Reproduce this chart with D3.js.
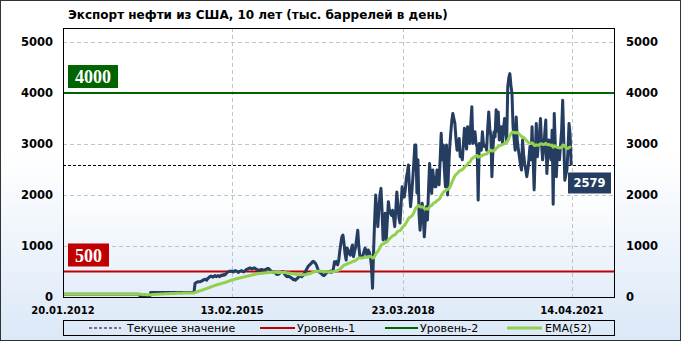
<!DOCTYPE html>
<html>
<head>
<meta charset="utf-8">
<script src="https://cdn.jsdelivr.net/npm/d3@7"></script>
<style>
  html, body { margin: 0; padding: 0; background: #fff; }
  svg { display: block; font-family: "DejaVu Sans", Verdana, sans-serif; }
</style>
</head>
<body>
<svg id="chart" width="681" height="341"></svg>
<script>
// Weekly series, first week ending 20.01.2012 (thousand barrels per day)
const startDate = new Date(2012, 0, 20);
const exportValues = [
  // 2012 - 2013
  55, 55, 55, 55, 55, 55, 55, 55, 55, 55, 55, 55, 55, 55, 55, 55, 55, 55, 55, 55,
  55, 55, 55, 55, 55, 55, 55, 55, 55, 55, 55, 55, 55, 55, 55, 55, 55, 55, 55, 55,
  55, 55, 55, 55, 55, 55, 55, 55, 55, 55, 55, 55, 55, 55, 55, 55, 55, 55, 55, 55,
  55, 55, 55, 55, 55, 55, 55, 55, 55, 55, 55, 55, 55,
  15, 15, 15, 15, 15, 15, 15, 15, 15, 15,
  // 2013 - 2014
  90, 90, 90, 90, 90, 90, 90, 90, 90, 90, 90, 90, 90, 90, 90, 90, 90, 90, 90, 90,
  90, 90, 90, 90, 90, 90, 90, 90, 90, 90, 90, 90, 90, 90, 90, 90, 90, 90, 90, 90,
  90, 90,
  // 2014 - 2015
  270, 280, 290, 300, 300, 300, 310, 320, 340, 340, 350, 330, 360, 380,
  400, 410, 400, 390, 410, 420, 400, 410, 420, 400,
  410, 430, 420, 440, 430, 450, 470, 490, 500, 510, 500,
  510, 490, 500, 520, 510, 500, 480, 500, 510, 520, 500, 490, 510, 530, 540,
  550, 560, 570, 560, 550, 560, 570, 560, 540, 530,
  530, 520, 530, 540, 530, 520, 530, 540, 550, 560, 550, 530,
  // 2015 - 2016
  510, 490, 480, 490, 470, 450, 440, 450, 460, 480, 490, 500, 480,
  440, 420, 400, 410, 400, 390, 380, 360, 340, 350, 330, 350, 370,
  390, 410, 420, 400, 420, 450, 480, 520, 560, 600, 620, 640, 660,
  690, 700, 680, 660, 620, 560, 500, 480, 470, 450, 430, 420, 440,
  460, 480, 500, 490, 510, 480, 500, 560, 690, 650, 700,
  // 2017
  630, 720, 900, 1050, 1180, 1215, 1050, 850, 725, 960, 900, 850, 820, 950, 1020, 790,
  900, 985, 1150, 1310, 1000, 800, 780, 800, 820, 900, 960, 880, 790, 920, 880, 790,
  600, 170, 900, 1500, 2000, 1700, 1380, 1700,
  // 2018
  2000, 2130, 1700, 1120, 1400, 1640, 1120, 1500, 1870, 1700, 1640, 1600, 1700, 1550,
  1380, 1700, 2060, 1800, 1550, 1450, 1800, 2160, 2050, 1960, 2100, 2330, 2450, 2590,
  2100, 1770, 2000, 2290, 2600, 2980, 2980, 2040, 2690, 1640, 1310, 1600,
  // 2019
  1840, 1575, 1180, 1500, 1770, 1510, 2100, 2620, 2300, 2030, 2490, 2300, 2160, 2160,
  2490, 2300, 2200, 2700, 3210, 2690, 2980, 2500, 2160, 2980, 2000, 2500, 2920, 3200,
  3450, 3600, 3500, 3400, 3100, 2880, 3000, 3110, 2750, 2800, 2690, 3000,
  // 2019 - 2020
  3310, 3100, 2900, 3340, 3200, 3010, 3400, 3730, 3010, 3100, 3240, 3000, 2950, 1900,
  3010, 2900, 2880, 3240, 3000, 2950, 2980, 2880, 3300, 3630, 3300, 3160, 2360, 2900,
  3240, 3140, 3670, 3250, 3630, 3080, 3200, 3340, 3010, 3300, 3500, 3300,
  // 2020 - 2021
  3050, 4120, 4300, 4380, 4150, 3990, 3340, 3100, 2880, 3530, 3080, 2900, 2750, 2600,
  2490, 3080, 2800, 2620, 2500, 2360, 2490, 2700, 2950, 2690, 3340, 2700, 2100, 2800,
  3400, 2750, 3000, 3200, 3500, 3000, 2690, 2880, 3200, 3470, 2420, 2800, 3080, 2800,
  2690, 3270, 1820, 3600, 3000, 2360, 2880, 2750, 2690, 3000, 3270, 3860, 3100, 2290,
  2400, 2490, 2880, 3400, 3200, 2579
];

const yTicks = [0, 1000, 2000, 3000, 4000, 5000];
const xTickLabels = ['20.01.2012', '13.02.2015', '23.03.2018', '14.04.2021'];
const level1 = 500;
const level2 = 4000;
const emaPeriod = 52;
const legendLabels = ['Текущее значение', 'Уровень-1', 'Уровень-2', 'EMA(52)'];
const chartTitle = 'Экспорт нефти из США, 10 лет (тыс. баррелей в день)';

const W = 681, H = 341;
const plot = { left: 63, right: 614, top: 28, bottom: 297 };

const colors = {
  line: '#243d60',
  ema: '#92d050',
  level1: '#c00000',
  level2: '#006400',
  grid: '#c3c3c3'
};

const parseDate = d3.timeParse('%d.%m.%Y');

// Build dated points and EMA
const series = exportValues.map((v, i) => ({ date: d3.timeDay.offset(startDate, 7 * i), value: v }));
const alpha = 2 / (emaPeriod + 1);
let emaPrev = exportValues[0];
const emaSeries = series.map(d => {
  emaPrev = emaPrev + alpha * (d.value - emaPrev);
  return { date: d.date, value: emaPrev };
});
const lastPoint = series[series.length - 1];

const x = d3.scaleTime()
  .domain([startDate, new Date(2022, 0, 18)])
  .range([plot.left, plot.right]);

const y = d3.scaleLinear()
  .domain([0, 5275])
  .range([plot.bottom, plot.top]);

const svg = d3.select('#chart');

// Background gradients
const defs = svg.append('defs');
const bgGrad = defs.append('linearGradient').attr('id', 'bgGrad')
  .attr('x1', 0).attr('y1', 0).attr('x2', 0).attr('y2', 1);
bgGrad.append('stop').attr('offset', '0%').attr('stop-color', '#ffffff');
bgGrad.append('stop').attr('offset', '45%').attr('stop-color', '#ffffff');
bgGrad.append('stop').attr('offset', '100%').attr('stop-color', '#dbe8f7');

const plotGrad = defs.append('linearGradient').attr('id', 'plotGrad')
  .attr('x1', 0).attr('y1', 0).attr('x2', 0).attr('y2', 1);
plotGrad.append('stop').attr('offset', '0%').attr('stop-color', '#ffffff');
plotGrad.append('stop').attr('offset', '60%').attr('stop-color', '#ffffff');
plotGrad.append('stop').attr('offset', '100%').attr('stop-color', '#e3edf9');

svg.append('rect')
  .attr('x', 0.5).attr('y', 0.5)
  .attr('width', W - 1).attr('height', H - 1)
  .attr('fill', 'url(#bgGrad)')
  .attr('stroke', '#333');

svg.append('rect')
  .attr('x', plot.left).attr('y', plot.top)
  .attr('width', plot.right - plot.left).attr('height', plot.bottom - plot.top)
  .attr('fill', 'url(#plotGrad)');

// Title
svg.append('text')
  .attr('x', 68).attr('y', 18.5)
  .attr('font-size', 12).attr('font-weight', 'bold')
  .attr('fill', '#000')
  .text(chartTitle);

// Grid
const gridG = svg.append('g').attr('class', 'grid');
gridG.selectAll('line.h')
  .data(yTicks.filter(t => t > 0))
  .enter().append('line')
  .attr('x1', plot.left).attr('x2', plot.right)
  .attr('y1', d => Math.round(y(d)) + 0.5).attr('y2', d => Math.round(y(d)) + 0.5)
  .attr('stroke', colors.grid).attr('stroke-dasharray', '4,3');

gridG.selectAll('line.v')
  .data(xTickLabels.slice(1))
  .enter().append('line')
  .attr('x1', d => Math.round(x(parseDate(d))) + 0.5).attr('x2', d => Math.round(x(parseDate(d))) + 0.5)
  .attr('y1', plot.top).attr('y2', plot.bottom)
  .attr('stroke', colors.grid).attr('stroke-dasharray', '4,3');

// Current value dashed line
svg.append('line')
  .attr('x1', plot.left).attr('x2', plot.right)
  .attr('y1', Math.round(y(lastPoint.value)) + 0.5).attr('y2', Math.round(y(lastPoint.value)) + 0.5)
  .attr('stroke', '#000').attr('stroke-dasharray', '3,2');

// Level lines
svg.append('line')
  .attr('x1', plot.left).attr('x2', plot.right)
  .attr('y1', y(level1)).attr('y2', y(level1))
  .attr('stroke', colors.level1).attr('stroke-width', 2);

svg.append('line')
  .attr('x1', plot.left).attr('x2', plot.right)
  .attr('y1', y(level2)).attr('y2', y(level2))
  .attr('stroke', colors.level2).attr('stroke-width', 2);

// Data line and EMA
const line = d3.line().x(d => x(d.date)).y(d => y(d.value));

svg.append('path')
  .datum(series)
  .attr('d', line)
  .attr('fill', 'none')
  .attr('stroke', colors.line)
  .attr('stroke-width', 3)
  .attr('stroke-linejoin', 'round');

svg.append('path')
  .datum(emaSeries)
  .attr('d', line)
  .attr('fill', 'none')
  .attr('stroke', colors.ema)
  .attr('stroke-width', 3)
  .attr('stroke-linejoin', 'round');

// Plot frame
svg.append('rect')
  .attr('x', plot.left + 0.5).attr('y', plot.top + 0.5)
  .attr('width', plot.right - plot.left).attr('height', plot.bottom - plot.top)
  .attr('fill', 'none').attr('stroke', '#000');

// Y axis labels both sides
const yLabels = svg.append('g')
  .attr('font-size', 11.5).attr('font-weight', 'bold').attr('fill', '#000');
yLabels.selectAll('text.left')
  .data(yTicks)
  .enter().append('text')
  .attr('x', 53).attr('y', d => y(d) + 4)
  .attr('text-anchor', 'end')
  .text(d => d);
yLabels.selectAll('text.right')
  .data(yTicks)
  .enter().append('text')
  .attr('x', 626).attr('y', d => y(d) + 4)
  .attr('text-anchor', 'start')
  .text(d => d);

// X axis labels
svg.append('g')
  .attr('font-size', 10).attr('font-weight', 'bold')
  .selectAll('text')
  .data(xTickLabels)
  .enter().append('text')
  .attr('x', d => x(parseDate(d)))
  .attr('y', 314)
  .attr('text-anchor', 'middle')
  .text(d => d);

// Level badges
function badge(value, color, yVal, width) {
  const top = y(yVal) - 28;
  svg.append('rect')
    .attr('x', 68).attr('y', top)
    .attr('width', width).attr('height', 23)
    .attr('fill', color);
  svg.append('text')
    .attr('x', 68 + width / 2).attr('y', top + 18)
    .attr('text-anchor', 'middle')
    .attr('font-family', '"Liberation Serif", serif')
    .attr('font-size', 18).attr('font-weight', 'bold')
    .attr('fill', '#fff')
    .text(value);
}
badge(level2, colors.level2, level2, 50);
badge(level1, colors.level1, level1, 41);

// Last value badge
const lastY = y(lastPoint.value);
svg.append('rect')
  .attr('x', 568).attr('y', lastY + 7)
  .attr('width', 43).attr('height', 21)
  .attr('fill', colors.line);
svg.append('text')
  .attr('x', 589.5).attr('y', lastY + 22)
  .attr('text-anchor', 'middle')
  .attr('font-size', 11.5).attr('font-weight', 'bold')
  .attr('fill', '#fff')
  .text(lastPoint.value);

// Legend
const legend = svg.append('g').attr('font-size', 11);
legend.append('rect')
  .attr('x', plot.left + 0.5).attr('y', 320.5)
  .attr('width', plot.right - plot.left).attr('height', 15)
  .attr('fill', 'none').attr('stroke', '#000');

const legendItems = [
  { label: legendLabels[0], color: '#000', dash: '3,2', width: 1, x1: 89, x2: 121, tx: 127 },
  { label: legendLabels[1], color: colors.level1, dash: null, width: 2, x1: 260, x2: 295, tx: 297 },
  { label: legendLabels[2], color: colors.level2, dash: null, width: 2, x1: 385, x2: 418, tx: 420 },
  { label: legendLabels[3], color: colors.ema, dash: null, width: 3, x1: 507, x2: 542, tx: 545 }
];

legendItems.forEach(item => {
  legend.append('line')
    .attr('x1', item.x1).attr('x2', item.x2)
    .attr('y1', 328).attr('y2', 328)
    .attr('stroke', item.color)
    .attr('stroke-width', item.width)
    .attr('stroke-dasharray', item.dash);
  legend.append('text')
    .attr('x', item.tx).attr('y', 332)
    .text(item.label);
});
</script>
</body>
</html>
